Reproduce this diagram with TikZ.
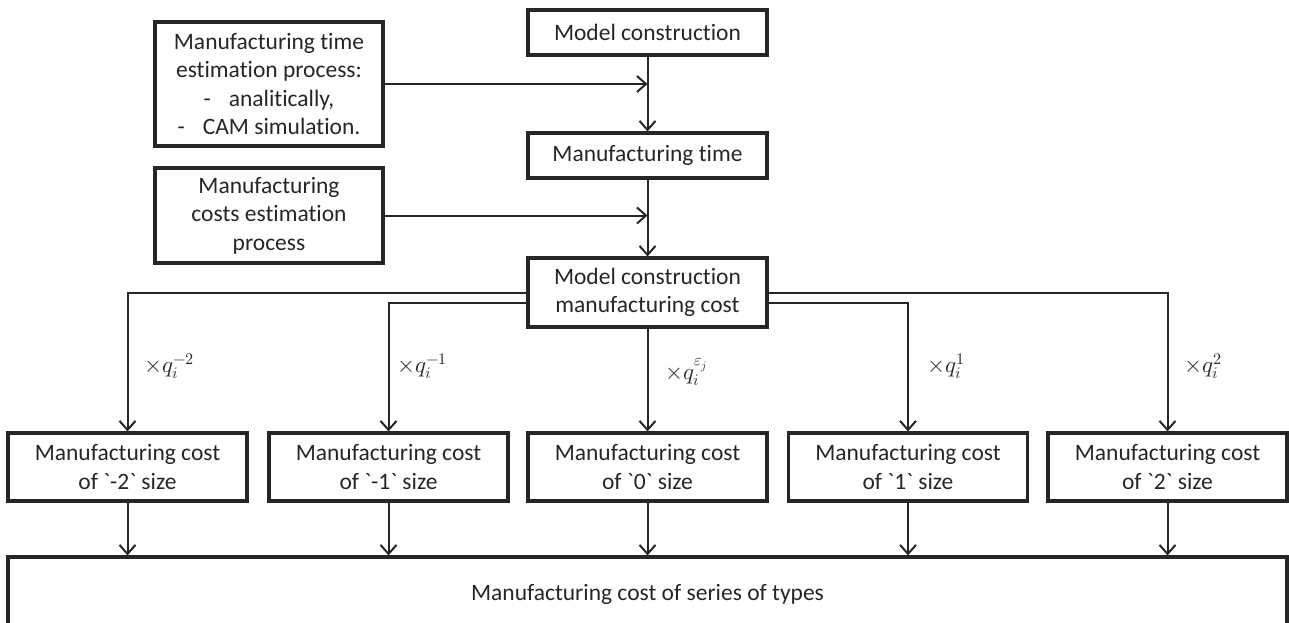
\documentclass[tikz,border=0pt]{standalone}
\usepackage{fontspec}
\usepackage{unicode-math}
\setmainfont{Carlito}[Ligatures={TeX,NoCommon}]
\setmathfont{Latin Modern Math}
\usetikzlibrary{arrows.meta}
\begin{document}
\begin{tikzpicture}[x=1pt,y=-1pt,
  box/.style={draw=black!85, line width=3.2pt, inner sep=0pt, align=center,
    font=\fontsize{23.5}{28.5}\selectfont, text=black!85},
  conn/.style={draw=black!85, line width=2pt,
    -{Straight Barb[length=9pt,width=16pt,line width=2pt]}},
  lbl/.style={anchor=west, font=\fontsize{23}{27}\selectfont, text=black!85, inner sep=0pt}]
\useasboundingbox (0,0) rectangle (1289,622);
\clip (0,0) rectangle (1289,622);

% main column
\node[box, minimum width=239pt, minimum height=45pt] (mc) at (647.5,32.5) {Model construction};
\node[box, minimum width=239pt, minimum height=45pt] (mt) at (647.5,155.5) {Manufacturing time};
\node[box, minimum width=239pt, minimum height=69pt] (mcc) at (647.5,292.5) {Model construction\\manufacturing cost};

% left inputs
\node[box, minimum width=228pt, minimum height=124pt] (est1) at (269,84)
  {Manufacturing time\\estimation process:\\-\hspace{18pt}analitically,\\-\hspace{18pt}CAM simulation.};
\node[box, minimum width=228pt, minimum height=95pt] (est2) at (269,215.5)
  {Manufacturing\\costs estimation\\process};

% size boxes
\node[box, minimum width=239pt, minimum height=68pt] (s1) at (127.5,467) {Manufacturing cost\\of \textasciigrave-2\textasciigrave{} size};
\node[box, minimum width=239pt, minimum height=68pt] (s2) at (388.5,467) {Manufacturing cost\\of \textasciigrave-1\textasciigrave{} size};
\node[box, minimum width=239pt, minimum height=68pt] (s3) at (647.5,467) {Manufacturing cost\\of \textasciigrave0\textasciigrave{} size};
\node[box, minimum width=239pt, minimum height=68pt] (s4) at (908,467) {Manufacturing cost\\of \textasciigrave1\textasciigrave{} size};
\node[box, minimum width=239pt, minimum height=68pt] (s5) at (1167.5,467) {Manufacturing cost\\of \textasciigrave2\textasciigrave{} size};

% bottom box
\node[box, minimum width=1279pt, minimum height=75pt] (bot) at (647.5,594.5) {Manufacturing cost of series of types};

% main column connectors
\draw[conn] (mc.south) -- (mt.north);
\coordinate (j1) at (mc.south |- est1.east);
\draw[conn] (est1.east) -- (j1);
\draw[conn] (mt.south) -- (mcc.north);
\coordinate (j2) at (mt.south |- est2.east);
\draw[conn] (est2.east) -- (j2);

% branches
\coordinate (yo) at (0,293);
\coordinate (yi) at (0,303);
\draw[conn] (mcc.west |- yo) -| (s1.north);
\draw[conn] (mcc.west |- yi) -| (s2.north);
\draw[conn] (mcc.south) -- (s3.north);
\draw[conn] (mcc.east |- yi) -| (s4.north);
\draw[conn] (mcc.east |- yo) -| (s5.north);

% to bottom
\foreach \s in {s1,s2,s3,s4,s5}
  \draw[conn] (\s.south) -- (\s.south |- bot.north);

% labels
\node[lbl] (l1) at (144,366) {$\times q_i^{-2}$};
\node[lbl] (l2) at (397,366) {$\times q_i^{-1}$};
\node[lbl] (l3) at (665,372) {$\times q_i^{\varepsilon_j}$};
\node[lbl] (l4) at (927,366) {$\times q_i^{1}$};
\node[lbl] (l5) at (1184,366) {$\times q_i^{2}$};
\end{tikzpicture}
\end{document}
